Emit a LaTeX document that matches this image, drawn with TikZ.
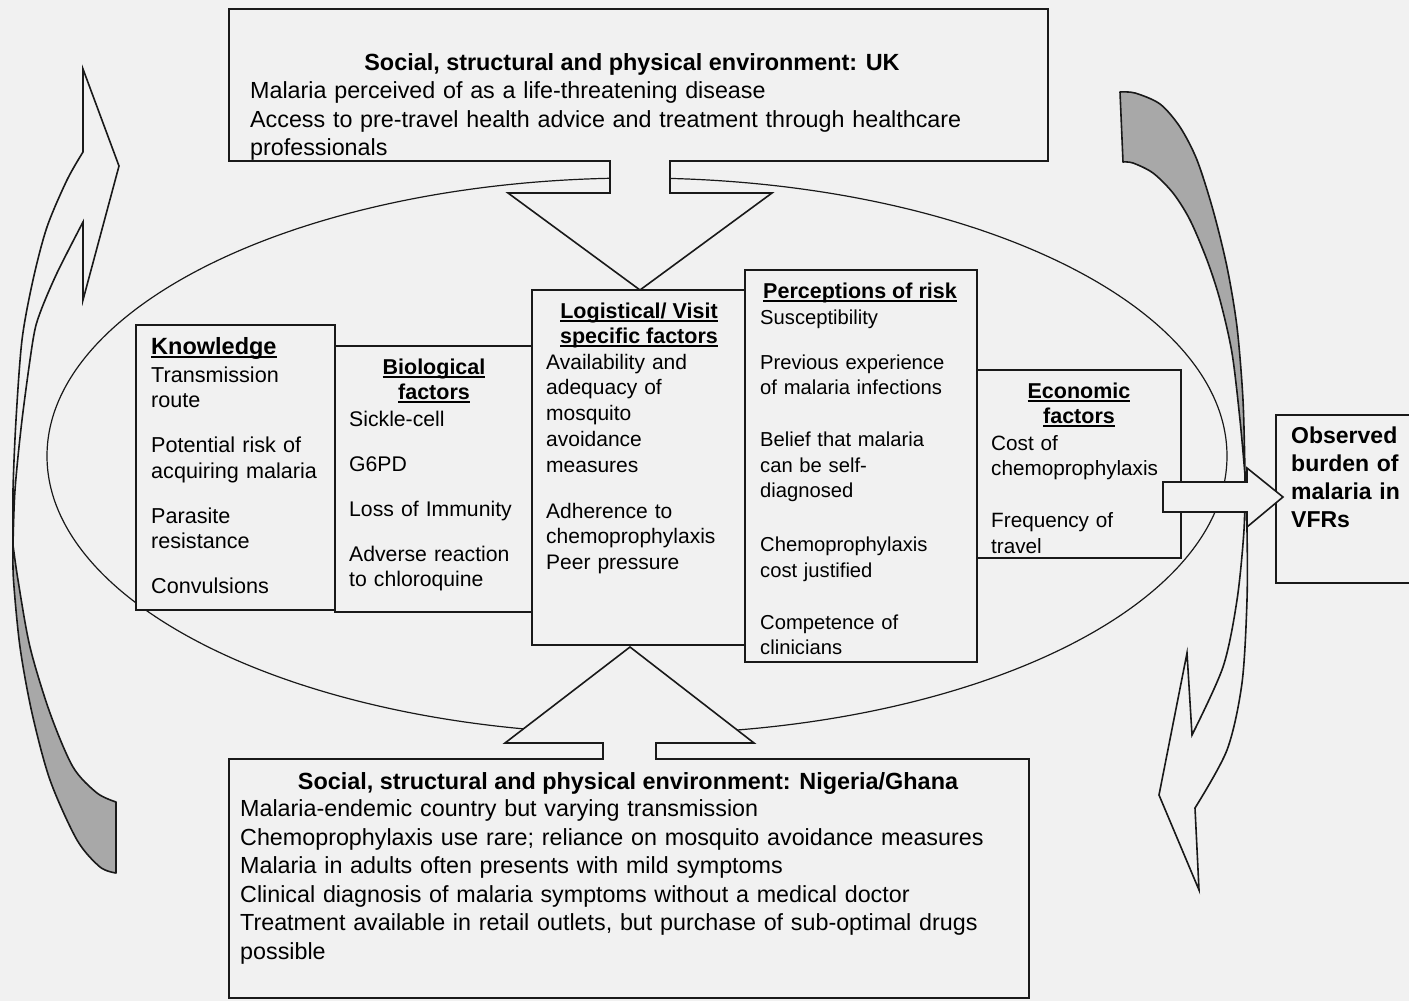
\documentclass[tikz,border=0pt]{standalone}
\usepackage{fontspec}
\setmainfont{Liberation Sans}

\definecolor{paper}{gray}{0.945}
\definecolor{ink}{gray}{0.1}
\definecolor{shade}{gray}{0.66}

% underlined heading: a rule laid just under the baseline
\newcommand\ulbar[1]{\leavevmode\setbox0=\hbox{#1}\rlap{\rule[-3.6pt]{\wd0}{1.7pt}}\box0}

\begin{document}
\begin{tikzpicture}[x=1pt,y=-1pt]
\tikzset{
  edge/.style={draw=ink,line width=1.6pt,line join=miter,fill=paper},
  backband/.style={draw=ink,line width=1.6pt,line join=round,fill=shade},
  frontband/.style={draw=ink,line width=1.6pt,line join=miter,fill=paper},
  heading/.style={inner sep=0pt,anchor=base,font=\bfseries\fontsize{21.5}{25}\selectfont},
  body/.style={inner sep=0pt,anchor=base west,align=left,text width=240pt},
  bigfont/.style={font=\fontsize{23.3}{28.5}\selectfont},
}
\path[use as bounding box] (0,0) rectangle (1409,1001);
\clip (0,0) rectangle (1409,1001);
\fill[paper] (0,0) rectangle (1409,1001);

% central ellipse
\draw[ink,line width=1.2pt] (637,456) ellipse [x radius=590pt, y radius=278pt];

% UK environment box with its downward arrow
\filldraw[edge] (610,161) -- (229,161) -- (229,9) -- (1048,9) -- (1048,161)
  -- (670,161) -- (670,193) -- (772,193) -- (640,290) -- (508,193) -- (610,193) -- cycle;

% Nigeria/Ghana environment box with its upward arrow
\filldraw[edge] (603,759) -- (229,759) -- (229,998) -- (1029,998) -- (1029,759)
  -- (656,759) -- (656,743) -- (754,743) -- (630,647) -- (505,743) -- (603,743) -- cycle;

% factor boxes
\filldraw[edge] (136,325) rectangle (335,610);
\filldraw[edge] (335,346) rectangle (532,612);
\filldraw[edge] (532,290) rectangle (745,645);
\filldraw[edge] (745,270) rectangle (977,662);
\filldraw[edge] (977,370) rectangle (1181,558);
\filldraw[edge] (1276,415) rectangle (1430,583);

% left curved arrow: shaded tail and light front with head
\filldraw[backband] (13,545)
  -- plot[smooth] coordinates {(13,545) (13.5,580) (20,647) (32,713) (50,780) (77,840) (100,867) (116,873)}
  -- (116,802)
  -- plot[smooth] coordinates {(116,802) (97,793) (73,767) (50,713) (30,647) (18,580) (13,545)}
  -- cycle;
\filldraw[frontband] (83,152)
  -- plot[smooth] coordinates {(83,152) (67,180) (47,227) (33,280) (22,340) (16,420) (13,490) (13,545)}
  -- plot[smooth] coordinates {(13,545) (15,490) (22,420) (33,340) (40,313) (57,273) (83,222)}
  -- (83,300) -- (119,166) -- (83,69) -- cycle;

% right curved arrow: shaded tail and light front with head
\filldraw[backband] (1245,475)
  -- plot[smooth] coordinates {(1245,475) (1243,400) (1237,327) (1227,267) (1213,210) (1197,160) (1180,127) (1160,104) (1135,93) (1120,92)}
  -- (1123,162)
  -- plot[smooth] coordinates {(1123,162) (1133,163) (1153,173) (1173,193) (1190,220) (1207,260) (1220,300) (1232,353) (1240,420) (1245,475)}
  -- cycle;
\filldraw[frontband] (1195,808)
  -- plot[smooth] coordinates {(1195,808) (1227,750) (1242,683) (1247,600) (1247,530) (1245,475)}
  -- plot[smooth] coordinates {(1245,475) (1244,530) (1237,600) (1223,667) (1192,735)}
  -- (1187,653) -- (1159,795) -- (1199,890) -- cycle;

% block arrow towards the observed burden
\filldraw[edge] (1163,482) -- (1247,482) -- (1247,468) -- (1283,497)
  -- (1247,527) -- (1247,512) -- (1163,512) -- cycle;

% UK environment text
\node[inner sep=0pt,anchor=base,font=\bfseries\fontsize{23.4}{28.5}\selectfont] (uktitle) at (632,70.5)
  {Social, structural and physical environment: UK};
\node[body,bigfont,text width=820pt] (uklines) at (250,98.5)
  {Malaria perceived of as a life-threatening disease\\
   Access to pre-travel health advice and treatment through healthcare\\
   professionals};

% Nigeria/Ghana environment text
\node[inner sep=0pt,anchor=base,font=\bfseries\fontsize{23.4}{28.5}\selectfont] (ngtitle) at (628,789)
  {Social, structural and physical environment: Nigeria/Ghana};
\node[body,bigfont,text width=820pt] (nglines) at (240,816.5)
  {Malaria-endemic country but varying transmission\\
   Chemoprophylaxis use rare; reliance on mosquito avoidance measures\\
   Malaria in adults often presents with mild symptoms\\
   Clinical diagnosis of malaria symptoms without a medical doctor\\
   Treatment available in retail outlets, but purchase of sub-optimal drugs\\
   possible};

% Knowledge
\node[inner sep=0pt,anchor=base west,font=\bfseries\fontsize{23.5}{28}\selectfont] (knowhead) at (151,354)
  {\ulbar{Knowledge}};
\node[body,font=\fontsize{21.6}{25.5}\selectfont] (knowbody) at (151,382)
  {Transmission\\route\\[19.5pt]Potential risk of\\acquiring malaria\\[19.5pt]Parasite\\resistance\\[19.5pt]Convulsions};

% Biological factors
\node[heading] (biohead) at (434,374) {\ulbar{Biological}};
\node[heading] (biohead2) at (434,399) {\ulbar{factors}};
\node[body,font=\fontsize{21.2}{25.6}\selectfont] (biobody) at (349,426)
  {Sickle-cell\\[19.4pt]G6PD\\[19.4pt]Loss of Immunity\\[19.4pt]Adverse reaction\\to chloroquine};

% Logistical / visit specific factors
\node[heading] (loghead) at (639,318) {\ulbar{Logistical/ Visit}};
\node[heading] (loghead2) at (639,343) {\ulbar{specific factors}};
\node[body,font=\fontsize{21}{25.8}\selectfont] (logbody) at (546,369)
  {Availability and\\adequacy of\\mosquito\\avoidance\\measures\\[20pt]Adherence to\\chemoprophylaxis\\Peer pressure};

% Perceptions of risk
\node[heading] (riskhead) at (860,298) {\ulbar{Perceptions of risk}};
\node[body,font=\fontsize{20.2}{25.5}\selectfont] (riskbody) at (760,324)
  {Susceptibility\\[19.5pt]Previous experience\\of malaria infections\\[26.5pt]Belief that malaria\\can be self-\\diagnosed\\[28.5pt]Chemoprophylaxis\\cost justified\\[26.5pt]Competence of\\clinicians};

% Economic factors
\node[heading] (econhead) at (1079,398) {\ulbar{Economic}};
\node[heading] (econhead2) at (1079,423) {\ulbar{factors}};
\node[body,font=\fontsize{20.7}{25.5}\selectfont] (econbody) at (991,450)
  {Cost of\\chemoprophylaxis\\[26.5pt]Frequency of\\travel};

% Observed burden
\node[body,font=\bfseries\fontsize{23}{28.3}\selectfont] (observed) at (1291,443)
  {Observed\\burden of\\malaria in\\VFRs};
\end{tikzpicture}
\end{document}
